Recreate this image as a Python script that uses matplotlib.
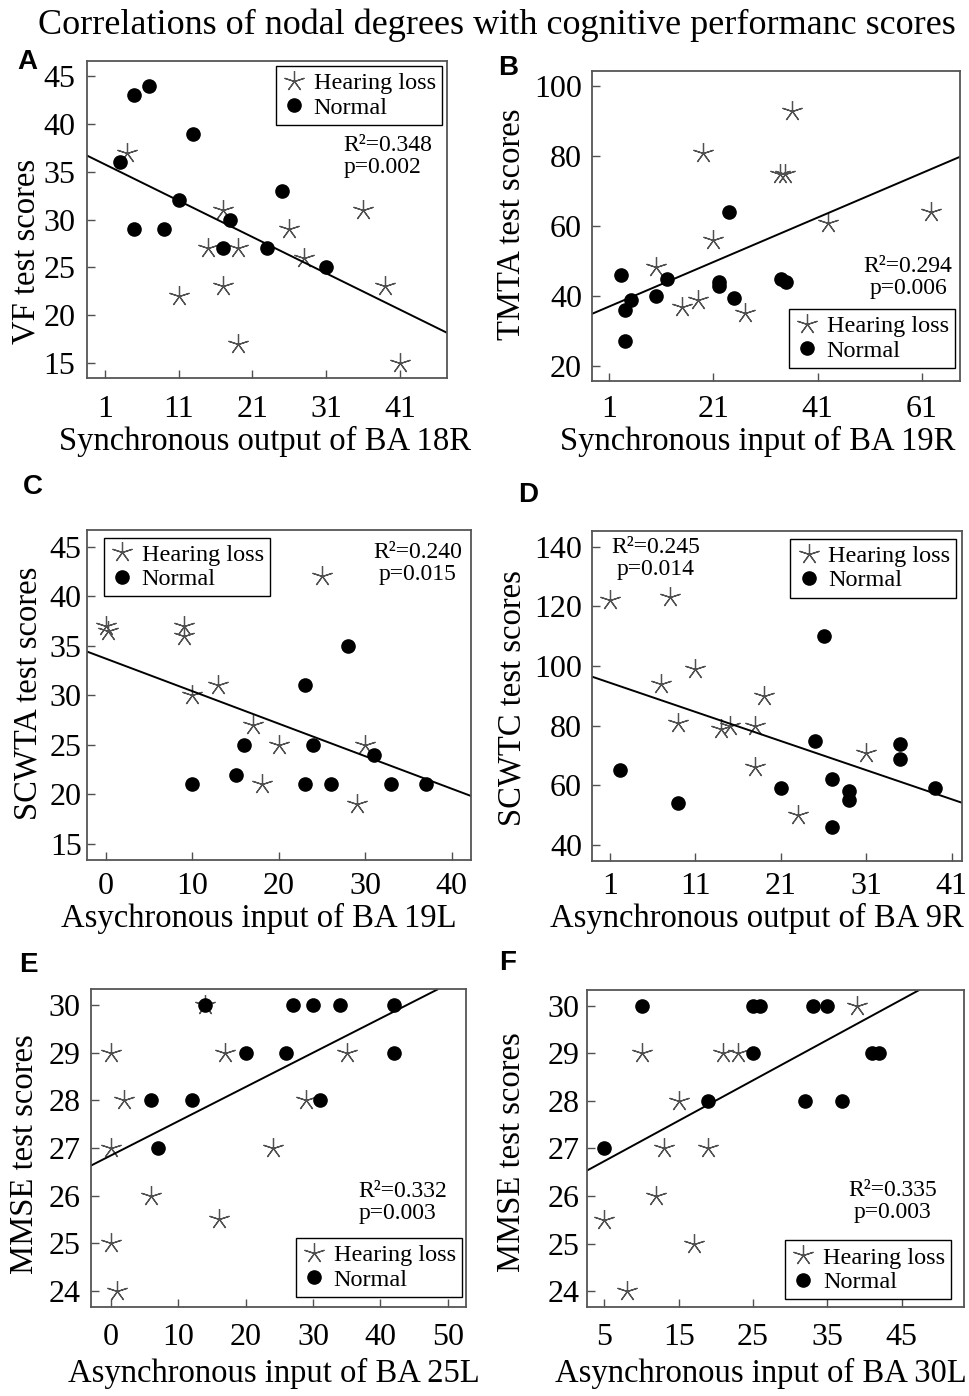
import numpy as np
import matplotlib
matplotlib.use("Agg")
import matplotlib.pyplot as plt
from matplotlib.lines import Line2D

plt.rcParams['font.family'] = ['Liberation Serif', 'DejaVu Serif']

# ---- data ----
# A: VF vs synchronous output of BA 18R
a_hl_x = [4, 11, 15, 17, 17, 19, 19, 26, 28, 36, 39, 41]
a_hl_y = [37, 22, 27, 31, 23, 27, 17, 29, 26, 31, 23, 15]
a_nc_x = [3, 5, 7, 13, 5, 9, 11, 18, 17, 23, 25, 31]
a_nc_y = [36, 43, 44, 39, 29, 29, 32, 30, 27, 27, 33, 25]
a_fit = (-0.38, 36.15)

# B: TMTA vs synchronous input of BA 19R
b_hl_x = [10, 15, 18, 19, 21, 27, 33.7, 34.7, 36, 43, 62.7]
b_hl_y = [48.4, 37, 39, 81, 56, 35, 75, 75, 93, 61, 64]
b_nc_x = [3.2, 5.1, 4.1, 4.1, 10, 12, 22, 22, 24, 25, 34, 35]
b_nc_y = [46, 39, 36, 27, 40, 45, 44, 43, 64, 39.5, 45, 44]
b_fit = (0.635, 36.38)

# C: SCWTA vs asychronous input of BA 19L
c_hl_x = [0, 0.2, 9, 9, 10, 13, 17, 18, 20, 25, 30, 29]
c_hl_y = [37, 36.5, 37, 36, 30, 31, 27, 21, 25, 42, 25, 19]
c_nc_x = [10, 15, 16, 23, 23, 24, 26, 28, 31, 33, 37]
c_nc_y = [21, 22, 25, 31, 21, 25, 21, 35, 24, 21, 21]
c_fit = (-0.328, 33.69)

# D: SCWTC vs asynchronous output of BA 9R
d_hl_x = [1, 8, 7, 11, 9, 14, 15, 18, 19, 18, 23, 31]
d_hl_y = [122, 123, 94, 99, 81, 79, 80, 80, 90, 66, 50, 71]
d_nc_x = [2.2, 9, 21, 25, 26, 27, 27, 29, 29, 35, 35, 39]
d_nc_y = [65, 54, 59, 75, 110, 62, 46, 58, 55, 74, 69, 59]
d_fit = (-0.976, 95.36)

# E: MMSE vs asynchronous input of BA 25L
e_hl_x = [14, 0, 17, 35, 2, 29, 0, 24, 6, 16, 0, 1]
e_hl_y = [30, 29, 29, 29, 28, 28, 27, 27, 26, 25.5, 25, 24]
e_nc_x = [14, 27, 30, 34, 42, 20, 26, 42, 6, 12, 31, 7]
e_nc_y = [30, 30, 30, 30, 30, 29, 29, 29, 28, 28, 28, 27]
e_fit = (0.0719, 26.84)

# F: MMSE vs asynchronous input of BA 30L
f_hl_x = [39, 10, 21, 23, 15, 13, 19, 12, 5, 17, 8]
f_hl_y = [30, 29, 29, 29, 28, 27, 27, 26, 25.5, 25, 24]
f_nc_x = [10, 25, 26, 33, 35, 25, 41, 42, 19, 32, 37, 5]
f_nc_y = [30, 30, 30, 30, 30, 29, 29, 29, 28, 28, 28, 27]
f_fit = (0.0849, 26.31)

stats = ["R\u00b2=0.348\np=0.002", "R\u00b2=0.294\np=0.006", "R\u00b2=0.240\np=0.015",
         "R\u00b2=0.245\np=0.014", "R\u00b2=0.332\np=0.003", "R\u00b2=0.335\np=0.003"]
xlabels = ["Synchronous output of BA 18R", "Synchronous input of BA 19R",
           "Asychronous input of BA 19L", "Asynchronous output of BA 9R",
           "Asynchronous input of BA 25L", "Asynchronous input of BA 30L"]
ylabels = ["VF test scores", "TMTA test scores", "SCWTA test scores",
           "SCWTC test scores", "MMSE test scores", "MMSE test scores"]
letters = ["A", "B", "C", "D", "E", "F"]

panels = [
    (a_hl_x, a_hl_y, a_nc_x, a_nc_y, a_fit),
    (b_hl_x, b_hl_y, b_nc_x, b_nc_y, b_fit),
    (c_hl_x, c_hl_y, c_nc_x, c_nc_y, c_fit),
    (d_hl_x, d_hl_y, d_nc_x, d_nc_y, d_fit),
    (e_hl_x, e_hl_y, e_nc_x, e_nc_y, e_fit),
    (f_hl_x, f_hl_y, f_nc_x, f_nc_y, f_fit),
]

# ---- layout / style ----
rects = [[0.0898, 0.7292, 0.3715, 0.2271], [0.6106, 0.7273, 0.3801, 0.2221],
         [0.0901, 0.3840, 0.3957, 0.2364], [0.6113, 0.3832, 0.3812, 0.2364],
         [0.0936, 0.0640, 0.3873, 0.2274], [0.6055, 0.0635, 0.3897, 0.2273]]
xlims = [(-1.44, 47.4), (-2.39, 68.35), (-2.16, 42.19), (-1.07, 42.17), (-2.97, 52.7), (2.62, 53.43)]
ylims = [(13.4, 46.6), (15.8, 104.4), (13.39, 46.68), (34.64, 145.25), (23.67, 30.33), (23.66, 30.33)]
xticks = [[1, 11, 21, 31, 41], [1, 21, 41, 61], [0, 10, 20, 30, 40],
          [1, 11, 21, 31, 41], [0, 10, 20, 30, 40, 50], [5, 15, 25, 35, 45]]
yticks = [np.arange(15, 46, 5), np.arange(20, 101, 20), np.arange(15, 46, 5),
          np.arange(40, 141, 20), np.arange(24, 31), np.arange(24, 31)]
ypads = [8.5, 7, 4, 7.5, 7.5, 5]
xpads = [12, 10, 9, 8, 12, 11]
stat_pos = [(0.836, 0.699, 'left'), (0.859, 0.333, 'center'), (0.8626, 0.898, 'center'),
            (0.172, 0.917, 'center'), (0.832, 0.328, 'left'), (0.811, 0.333, 'center')]
leg_pos = [('upper right', (0.986, 0.984)), ('lower right', (0.986, 0.041)),
           ('upper left', (0.0436, 0.976)), ('upper right', (0.985, 0.976)),
           ('lower right', (0.989, 0.031)), ('lower right', (0.965, 0.026))]
xlab_pos = [(0.494, -0.201), (0.45, -0.197), (0.446, -0.176),
            (0.446, -0.173), (0.488, -0.209), (0.462, -0.207)]
ylab_pos = [(-0.168, 0.40), (-0.217, 0.505), (-0.154, 0.506),
            (-0.218, 0.494), (-0.175, 0.481), (-0.199, 0.489)]
letter_pos = [(27, 62), (508, 68), (33, 487), (528, 495), (28, 965), (508, 963)]

star = (5, 2, 0)
star_kw = dict(marker=star, markersize=15, markeredgewidth=0.9, color='#505050', linestyle='none')
dot_kw = dict(marker='o', markersize=9.5, color='black', linestyle='none')

W, H = 969, 1396
fig = plt.figure(figsize=(W / 100, H / 100), dpi=100)
fig.text(497 / W, 1 - 25 / H, "Correlations of nodal degrees with cognitive performanc scores",
         ha='center', va='center', fontsize=26)

for i, (hx, hy, nx, ny, fit) in enumerate(panels):
    ax = fig.add_axes(rects[i])
    ax.plot(hx, hy, **star_kw)
    ax.plot(nx, ny, **dot_kw)
    ax.axline((0, fit[1]), slope=fit[0], color='black', lw=1.4)
    ax.set_xlim(*xlims[i])
    ax.set_ylim(*ylims[i])
    ax.set_xticks(xticks[i])
    ax.set_yticks(yticks[i])
    ax.tick_params(direction='in', length=6, width=1, color='#505050', labelsize=23)
    ax.tick_params(axis='y', pad=ypads[i])
    ax.tick_params(axis='x', pad=xpads[i])
    for sp in ax.spines.values():
        sp.set_color('#555555')
        sp.set_linewidth(1.3)

    ax.set_xlabel(xlabels[i], fontsize=23.5, va='center')
    ax.xaxis.set_label_coords(*xlab_pos[i])
    ax.set_ylabel(ylabels[i], fontsize=23.5, va='center')
    ax.yaxis.set_label_coords(*ylab_pos[i])

    sx, sy, al = stat_pos[i]
    ax.text(sx, sy, stats[i], transform=ax.transAxes, ha='center', va='center',
            multialignment=al, fontsize=17, linespacing=1.05)

    handles = [Line2D([], [], **star_kw), Line2D([], [], **dot_kw)]
    loc, anchor = leg_pos[i]
    leg = ax.legend(handles, ["Hearing loss", "Normal"], loc=loc, bbox_to_anchor=anchor,
                    borderaxespad=0, fontsize=17.5, handlelength=1.0, handletextpad=0.3,
                    borderpad=0.25, labelspacing=0.1, fancybox=False, framealpha=1)
    leg.get_frame().set_edgecolor('black')
    leg.get_frame().set_linewidth(1.0)

    lx, ly = letter_pos[i]
    fig.text(lx / W, 1 - ly / H, letters[i], ha='center', va='center', fontsize=20,
             fontweight='bold', family=['Liberation Sans', 'DejaVu Sans'])

fig.savefig("out.png", dpi=100)
